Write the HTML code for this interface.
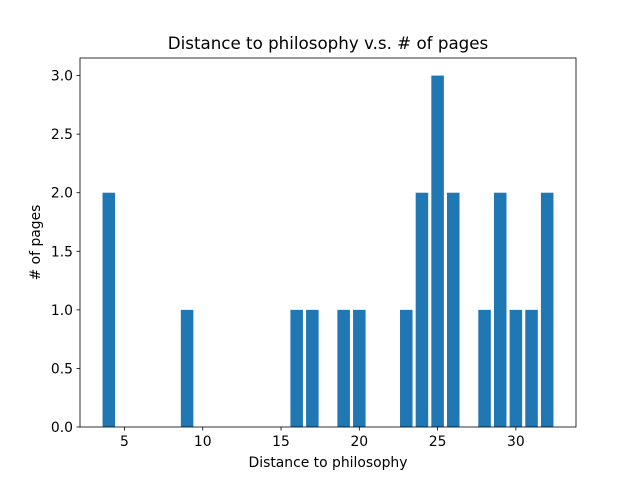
<!DOCTYPE html>
<html><head><meta charset="utf-8"><style>
body{margin:0;background:#fff;}
svg text{font-family:"DejaVu Sans","Liberation Sans",sans-serif;fill:#000;}
</style></head><body>
<svg id="chart" width="640" height="480" xmlns="http://www.w3.org/2000/svg">
<rect width="640" height="480" fill="#fff"/>
<text x="328" y="49" font-size="16.7" text-anchor="middle">Distance to philosophy v.s. # of pages</text>
<g id="bars"></g>
<g id="axes"></g>
<text x="328" y="467" font-size="13.9" text-anchor="middle">Distance to philosophy</text>
<text transform="translate(40,242.5) rotate(-90)" font-size="13.9" text-anchor="middle"># of pages</text>
</svg>
<script>
const distances=[4,9,16,17,19,20,23,24,25,26,28,29,30,31,32];
const pageCounts=[2,1,1,1,1,1,1,2,3,2,1,2,1,1,2];
const xTicks=[5,10,15,20,25,30];
const yTicks=[0,0.5,1,1.5,2,2.5,3];
const L=80,R=576,T=58,B=427;
const xmin=Math.min(...distances)-0.4,xmax=Math.max(...distances)+0.4,xm=(xmax-xmin)*0.05;
const x0=xmin-xm,x1=xmax+xm;
const ymax=Math.max(...pageCounts)*1.05;
const sx=v=>L+(v-x0)/(x1-x0)*(R-L);
const sy=v=>B-v/ymax*(B-T);
const NS="http://www.w3.org/2000/svg";
const bars=document.getElementById('bars'),axes=document.getElementById('axes');
distances.forEach((d,i)=>{
 const r=document.createElementNS(NS,'rect');
 r.setAttribute('x',sx(d-0.4));r.setAttribute('width',sx(d+0.4)-sx(d-0.4));
 r.setAttribute('y',sy(pageCounts[i]));r.setAttribute('height',B-sy(pageCounts[i]));
 r.setAttribute('fill','#1f77b4');
 
 
 bars.appendChild(r);
});
const frame=document.createElementNS(NS,'rect');
frame.setAttribute('x',L);frame.setAttribute('y',T);frame.setAttribute('width',R-L);frame.setAttribute('height',B-T);
frame.setAttribute('fill','none');frame.setAttribute('stroke','#000');frame.setAttribute('stroke-width','0.8');


axes.appendChild(frame);
xTicks.forEach(t=>{
 const l=document.createElementNS(NS,'line');
 l.setAttribute('x1',sx(t));l.setAttribute('x2',sx(t));l.setAttribute('y1',B);l.setAttribute('y2',B+3.5);
 l.setAttribute('stroke','#000');l.setAttribute('stroke-width','0.8');
 
 
 axes.appendChild(l);
 const tx=document.createElementNS(NS,'text');
 tx.setAttribute('x',sx(t));tx.setAttribute('y',B+19);tx.setAttribute('font-size','13.9');tx.setAttribute('text-anchor','middle');
 tx.textContent=t;
 
 
 axes.appendChild(tx);
});
yTicks.forEach(t=>{
 const l=document.createElementNS(NS,'line');
 l.setAttribute('x1',L-3.5);l.setAttribute('x2',L);l.setAttribute('y1',sy(t));l.setAttribute('y2',sy(t));
 l.setAttribute('stroke','#000');l.setAttribute('stroke-width','0.8');
 
 
 axes.appendChild(l);
 const tx=document.createElementNS(NS,'text');
 tx.setAttribute('x',L-7);tx.setAttribute('y',sy(t)+5);tx.setAttribute('font-size','13.9');tx.setAttribute('text-anchor','end');
 tx.textContent=t.toFixed(1);
 
 
 axes.appendChild(tx);
});
</script>
</body></html>
